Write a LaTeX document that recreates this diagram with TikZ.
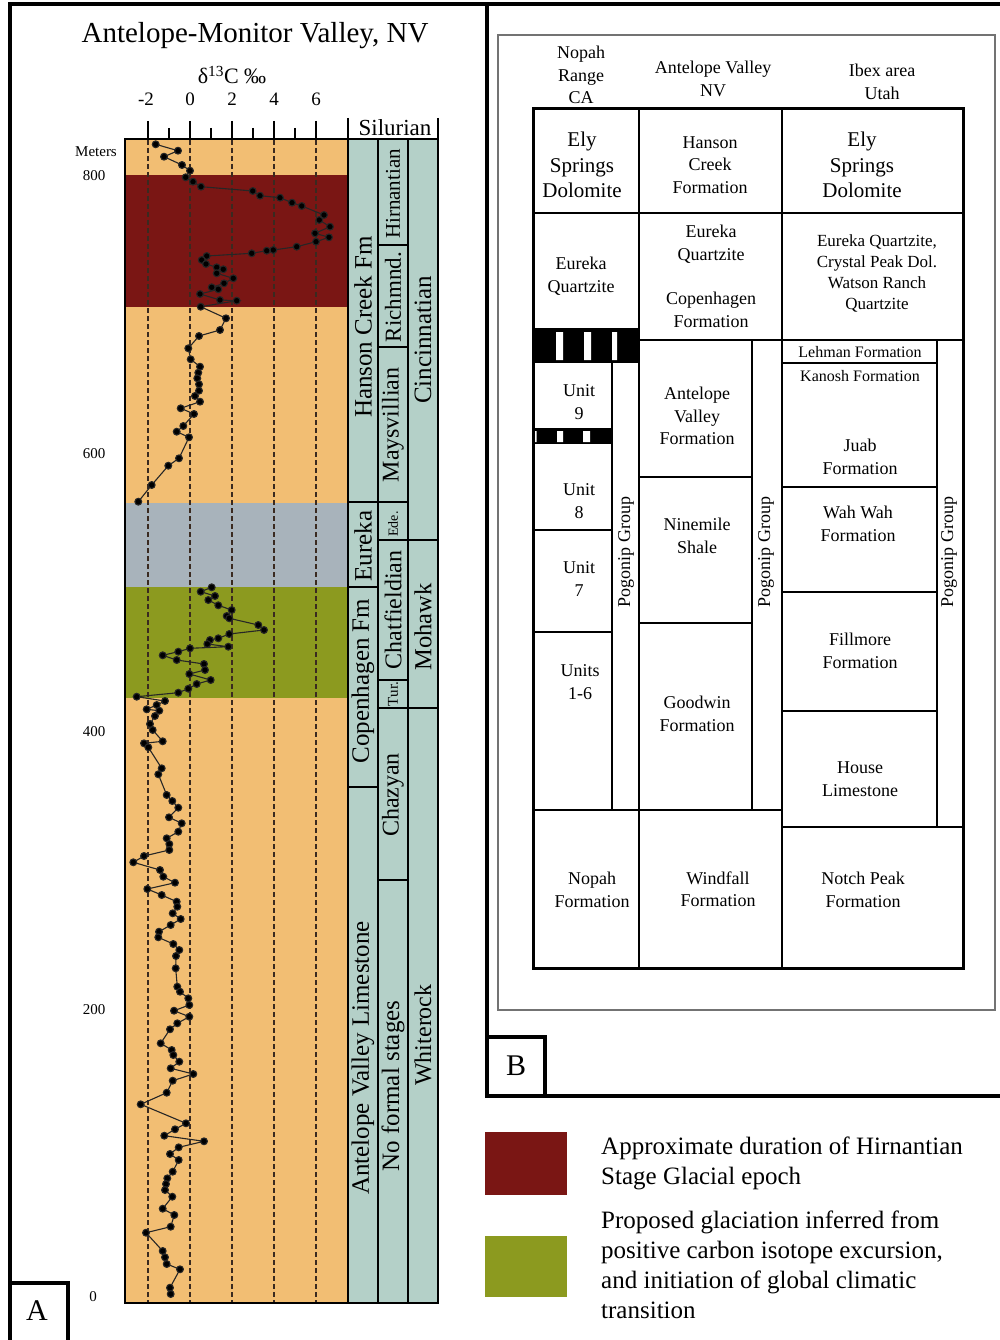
\documentclass[tikz,border=0pt]{standalone}
\usepackage{fontspec}
\setmainfont{Liberation Serif}
\newcommand{\fsz}[2]{\fontsize{#1}{#2}\selectfont}
\definecolor{orng}{HTML}{F2BE73}
\definecolor{hred}{HTML}{7A1614}
\definecolor{gblue}{HTML}{A8B3BB}
\definecolor{olive}{HTML}{8C9A1F}
\definecolor{teal2}{HTML}{B4D0C8}
\definecolor{dashc}{HTML}{3A2A20}
\tikzset{
  frameline/.style={line width=4pt, line cap=rect},
  tbl/.style={line width=1.6pt},
  tblthick/.style={line width=2.8pt},
  txt/.style={inner sep=0pt, align=center, font=\fsz{18}{22.5}},
  vtxt/.style={inner sep=0pt, rotate=90, font=\fsz{25}{30}},
  axlbl/.style={inner sep=0pt, font=\fsz{19}{22}},
  legtxt/.style={inner sep=0pt, anchor=north west, align=left, font=\fsz{25}{30}},
  curve/.style={draw=black!85, line width=1.1pt, mark=*, mark size=3.4pt, mark options={fill=black}},
}
\begin{document}
\begin{tikzpicture}[x=1pt,y=-1pt]
\useasboundingbox (0,0) rectangle (999,1340);
\fill[white] (0,0) rectangle (999,1340);

% ---------------- Panel A ----------------
\fill[orng] (125,139) rectangle (348,1303);
\fill[hred] (125,175) rectangle (348,307);
\fill[gblue] (125,503) rectangle (348,587);
\fill[olive] (125,587) rectangle (348,698);
\foreach \x in {148,190,232,274,316}
  \draw[dashc, line width=1.5pt, dash pattern=on 5pt off 3pt] (\x,140) -- (\x,1302);
\draw[line width=2pt] (125,139) rectangle (348,1303);

% ticks
\foreach \x in {148,190,232,274,316}
  \draw[line width=2pt] (\x,121) -- (\x,139);
\foreach \x in {169,211,253,295}
  \draw[line width=2pt] (\x,128) -- (\x,139);
\draw[line width=2pt] (348,118) -- (348,139);
\draw[line width=2pt] (438,118) -- (438,139);

\node[axlbl] (tm2) at (146,99) {-2};
\node[axlbl] (t0) at (190,99) {0};
\node[axlbl] (t2) at (232,99) {2};
\node[axlbl] (t4) at (274,99) {4};
\node[axlbl] (t6) at (316,99) {6};
\node[inner sep=0pt, font=\fsz{22}{26}] (dlab) at (232,75) {δ\textsuperscript{13}C ‰};
\node[inner sep=0pt, font=\fsz{29}{32}] (title) at (255,36) {Antelope-Monitor Valley, NV};
\node[inner sep=0pt, font=\fsz{23}{26}] (silu) at (395,128) {Silurian};

\node[inner sep=0pt, font=\fsz{15}{18}] (meters) at (96,152) {Meters};
\node[inner sep=0pt, font=\fsz{15}{18}] (m800) at (94,176) {800};
\node[inner sep=0pt, font=\fsz{15}{18}] (m600) at (94,454) {600};
\node[inner sep=0pt, font=\fsz{15}{18}] (m400) at (94,732) {400};
\node[inner sep=0pt, font=\fsz{15}{18}] (m200) at (94,1010) {200};
\node[inner sep=0pt, font=\fsz{15}{18}] (m0) at (93,1297) {0};

% data curve
\draw[curve] plot coordinates {(155.7,144.3) (178,150.7) (164,156.7) (182,165) (190,170.7) (185.7,177.3) (193,181.7) (201,186.7) (252.7,191) (260,195.7) (280,197.7) (292,202.7) (301.7,206) (324,215) (319.3,220) (330,226.7) (315,233.3) (329,237.3) (316,241.7) (296.7,246.7) (273.3,250) (266.7,250.7) (251.7,253.3) (206.7,256) (201.7,260) (206,264) (216.7,267.3) (223.3,269.3) (216.7,273.3) (233.3,278.3) (224,283.3) (211.7,287.3) (218.3,289.3) (200,294) (220,300) (236.7,300.7) (200.7,306.7) (226,318.3) (220,330) (199,336) (188.3,348.3) (190.7,359.3) (200,366.7) (198.3,372.7) (197.3,378.3) (199,384.3) (199,390.7) (195,396) (200,401.7) (180.7,408.3) (194,414) (183.3,426) (176.7,431.7) (189,437.3) (179,458.3) (168.3,465.7) (151.7,485) (138.3,501.7)};
\draw[curve] plot coordinates {(211.7,587.3) (200.7,591.7) (215,596) (208.3,600) (218.3,605.3) (231.7,610) (226.7,616) (229.3,618.3) (258.3,625) (264,630) (229.3,634) (218.3,638.3) (210,640) (207.3,644) (228.3,646.7) (190,648.3) (178.3,651.7) (162.7,655.3) (176.7,660) (204,664) (205,670) (189.3,674) (210.7,680) (196.7,684) (188.3,688.7) (178.3,692.7) (136.7,696.7) (165,701) (156.7,705) (146.7,709.3) (159.3,710.7) (155,716) (150,724) (152.7,730) (162.7,741.3) (144,743.3) (148.3,747.3) (161.7,768.3) (158.3,774.3) (166.7,795) (172.3,801) (178.3,807.7) (169,817.3) (181.7,823.3) (178.3,831.7) (166.7,838.3) (169.3,844) (169.3,850) (144,856) (133.3,862.3) (160,870) (163.3,876.7) (175,882.7) (147.3,889) (161.7,895) (176.7,901.7) (177.3,906.7) (172.7,913.3) (180.7,919) (170.7,925) (159,931.7) (158.3,937.3) (173.3,944) (179.3,950) (176,956) (175.7,968.3) (177.3,986.7) (180,991.7) (188.3,998.3) (189.3,1005) (174,1010.7) (189.3,1016.7) (177.3,1023.3) (170,1029.3) (160.7,1043.3) (171.7,1050) (173.3,1055) (179.3,1061.7) (170.7,1068.3) (193.3,1074) (172.7,1080.7) (166.7,1092.7) (140.7,1104.3) (186,1123.3) (175,1129.3) (164.3,1135.7) (204,1141.3) (178.7,1147.3) (170,1154) (178.7,1160) (172.7,1171.7) (167.3,1178.3) (166,1184) (165,1190) (172.3,1196.7) (162.7,1208.7) (174.3,1215) (170.7,1226.7) (146,1232.7) (162.7,1251) (165,1257.3) (166.7,1264) (180,1269.3) (170,1287.7) (170.7,1294)};

% stratigraphic columns
\fill[teal2] (348,139) rectangle (438,1303);
\draw[line width=2pt] (348,139) rectangle (438,1303);
\draw[line width=2pt] (378,139) -- (378,1303) (408,139) -- (408,1303);
\draw[line width=2pt] (348,502) -- (378,502) (348,587) -- (378,587) (348,787) -- (378,787);
\draw[line width=2pt] (378,245) -- (408,245) (378,347) -- (408,347) (378,502) -- (408,502)
  (378,540) -- (408,540) (378,680) -- (408,680) (378,708) -- (408,708) (378,880) -- (408,880);
\draw[line width=2pt] (408,540) -- (438,540) (408,708) -- (438,708);

\node[vtxt] (hanson) at (363,327) {Hanson Creek Fm};
\node[vtxt] (eurA) at (363,546) {Eureka};
\node[vtxt] (copA) at (363,681) {Copenhagen Fm};
\node[vtxt] (avl) at (363,1058) {Antelope Valley Limestone};
\node[vtxt, font=\fsz{21}{24}] (hirn) at (393,194) {Hirnantian};
\node[vtxt, font=\fsz{23}{26}] (richm) at (393,297) {Richmnd.};
\node[vtxt, font=\fsz{24}{28}] (mays) at (393,425) {Maysvillian};
\node[vtxt, font=\fsz{14}{16}] (ede) at (393,524) {Ede.};
\node[vtxt, font=\fsz{24}{28}] (chat) at (393,610) {Chatfieldian};
\node[vtxt, font=\fsz{15}{18}] (tur) at (393,694) {Tur.};
\node[vtxt, font=\fsz{24}{28}] (chaz) at (393,795) {Chazyan};
\node[vtxt] (nofs) at (393,1086) {No formal stages};
\node[vtxt] (cinc) at (423,340) {Cincinnatian};
\node[vtxt, font=\fsz{24.5}{28}] (moh) at (423,627) {Mohawk};
\node[vtxt, font=\fsz{24}{28}] (white) at (423,1035) {Whiterock};

% panel A frame and label
\draw[frameline] (10,4) -- (487,4);
\draw[frameline] (10,4) -- (10,1345);
\draw[frameline] (487,4) -- (487,1096);
\draw[line width=4pt] (10,1283) -- (68,1283) -- (68,1345);
\node[inner sep=0pt, font=\fsz{30}{34}] (labA) at (37,1311) {A};

% ---------------- Panel B ----------------
\draw[line width=4pt] (485,4) -- (1005,4);
\draw[line width=4pt] (485,1096) -- (1005,1096);
\draw[black!55, line width=1.5pt] (498,35) rectangle (995,1010);

% barcodes
\fill[black] (533,329) rectangle (638,363);
\fill[white] (556,332) rectangle (563,360) (584,332) rectangle (591,360) (612,332) rectangle (617,360);
\fill[black] (533,428) rectangle (612,444);
\fill[white] (535,431) rectangle (536.5,442) (557,431) rectangle (563,442) (583,431) rectangle (590,442);

% table lines
\draw[tbl] (639,109) -- (639,968) (782,109) -- (782,968);
\draw[tblthick] (533,213) -- (963,213);
\draw[tbl] (533,329) -- (639,329);
\draw[tbl] (612,363) -- (612,810);
\draw[tbl] (533,530) -- (612,530) (533,632) -- (612,632);
\draw[tblthick] (639,340) -- (963,340);
\draw[tbl] (752,340) -- (752,810);
\draw[tblthick] (639,477) -- (752,477) (639,623) -- (752,623);
\draw[tbl] (533,810) -- (782,810);
\draw[tbl] (937,340) -- (937,827);
\draw[tbl] (782,363) -- (937,363) (782,487) -- (937,487) (782,592) -- (937,592) (782,711) -- (937,711);
\draw[tbl] (782,827) -- (963,827);
\draw[line width=3pt] (533,109) rectangle (963,968);

% header texts
\node[txt] (hNopah) at (581,75) {Nopah\\Range\\CA};
\node[txt] (hAV) at (713,79) {Antelope Valley\\NV};
\node[txt] (hIbex) at (882,82) {Ibex area\\Utah};

% table texts
\node[txt, font=\fsz{21}{25.5}] (ely1) at (582,165) {Ely\\Springs\\Dolomite};
\node[txt] (hcf) at (710,165) {Hanson\\Creek\\Formation};
\node[txt, font=\fsz{21}{25.5}] (ely2) at (862,165) {Ely\\Springs\\Dolomite};
\node[txt] (eq1) at (581,276) {Eureka\\Quartzite};
\node[txt] (eq2) at (711,244) {Eureka\\Quartzite};
\node[txt] (copB) at (711,310) {Copenhagen\\Formation};
\node[txt, font=\fsz{17}{21}] (eq3) at (877,273.5) {Eureka Quartzite,\\Crystal Peak Dol.\\Watson Ranch\\Quartzite};
\node[txt] (u9) at (579,402) {Unit\\9};
\node[txt] (u8) at (579,501) {Unit\\8};
\node[txt] (u7) at (579,579) {Unit\\7};
\node[txt] (u16) at (580,682) {Units\\1-6};
\node[txt, rotate=90, font=\fsz{18}{20}] (pg1) at (626,552) {Pogonip Group};
\node[txt, rotate=90, font=\fsz{18}{20}] (pg2) at (766,552) {Pogonip Group};
\node[txt, rotate=90, font=\fsz{18}{20}] (pg3) at (949,552) {Pogonip Group};
\node[txt] (avf) at (697,416) {Antelope\\Valley\\Formation};
\node[txt] (nms) at (697,536) {Ninemile\\Shale};
\node[txt] (gdw) at (697,714) {Goodwin\\Formation};
\node[txt, font=\fsz{16}{19}] (leh) at (860,352) {Lehman Formation};
\node[txt, font=\fsz{16}{19}] (kan) at (860,376) {Kanosh Formation};
\node[txt] (juab) at (860,457) {Juab\\Formation};
\node[txt] (wah) at (858,524) {Wah Wah\\Formation};
\node[txt] (fill) at (860,651) {Fillmore\\Formation};
\node[txt] (house) at (860,779) {House\\Limestone};
\node[txt] (nopf) at (592,890) {Nopah\\Formation};
\node[txt] (wind) at (718,889) {Windfall\\Formation};
\node[txt] (notch) at (863,890) {Notch Peak\\Formation};

% B label
\draw[line width=4pt] (485,1037) -- (545,1037) -- (545,1096);
\node[inner sep=0pt, font=\fsz{30}{34}] (labB) at (516,1066) {B};

% legend
\fill[hred] (485,1132) rectangle (567,1195);
\fill[olive] (485,1236) rectangle (567,1297);
\node[legtxt] (leg1) at (601,1137) {Approximate duration of Hirnantian\\Stage Glacial epoch};
\node[legtxt] (leg2) at (601,1211) {Proposed glaciation inferred from\\positive carbon isotope excursion,\\and initiation of global climatic\\transition};
\end{tikzpicture}
\end{document}
